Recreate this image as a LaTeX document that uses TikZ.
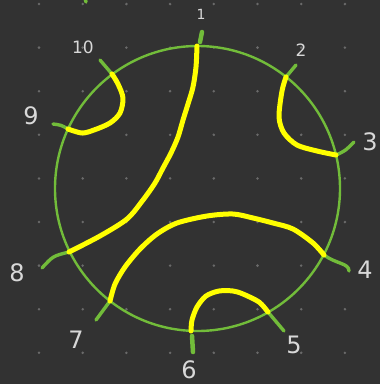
\documentclass[tikz,border=0pt]{standalone}
\usepackage{fontspec}
\setmainfont{DejaVu Sans}
\usepackage{tikz}
\usetikzlibrary{positioning,calc}

\definecolor{bgdark}{HTML}{323232}
\definecolor{griddot}{HTML}{6A6A6A}
\definecolor{ringgreen}{HTML}{72BC3A}
\definecolor{chordyellow}{HTML}{FFFF00}
\definecolor{lblgray}{HTML}{D8D8D8}

\tikzset{
	ring/.style={ringgreen,line width=2.4pt},
	tick/.style={ringgreen,line width=3.4pt,line cap=round},
	chord/.style={chordyellow,line width=5pt,line cap=round,line join=round},
	lbl/.style={lblgray,inner sep=0pt,font=\fontsize{24}{24}\selectfont},
	lblsmall/.style={lbl,font=\fontsize{17}{17}\selectfont}
}

\begin{document}
\begin{tikzpicture}[x=1pt,y=-1pt]
		
		% Background
		\fill[bgdark] (0,0) rectangle (380,384);
		\useasboundingbox (0,0) rectangle (380,384);
		
		% Dot grid
		\foreach \i in {0,...,7}
		\foreach \j in {0,...,8}
		\fill[griddot] (39+43.7*\i,4+43.6*\j) circle (1.4);
		
		% Circle
		\coordinate (c) at (197.5,188.5);
		\draw[ring] (c) circle (142.5);
		
		% Points on the circle
		\coordinate (p1) at (197,46);
		\coordinate (p2) at (286,77);
		\coordinate (p3) at (336,155);
		\coordinate (p4) at (324,255);
		\coordinate (p5) at (268,312);
		\coordinate (p6) at (191,331);
		\coordinate (p7) at (110,301);
		\coordinate (p8) at (69,252);
		\coordinate (p9) at (68,129);
		\coordinate (p10) at (112,74);
		
		% Ticks
		\coordinate (t1) at (202,32);
		\coordinate (t2) at (296,65);
		\coordinate (t3) at (354,142);
		\coordinate (t4) at (349,271);
		\coordinate (t5) at (284,331);
		\coordinate (t6) at (193,352);
		\coordinate (t7) at (96,320);
		\coordinate (t8) at (42,268);
		\coordinate (t9) at (53,124);
		\coordinate (t10) at (100,60);
		
		\draw[tick,line width=4.5pt] ($(p1)+(3,-4)$) -- (t1);
		\draw[tick] (p2) -- (t2);
		\draw[tick] (p3) .. controls (345,151) .. (t3);
		\draw[tick] (p4) .. controls (336,264) and (349,263) .. (t4);
		\draw[tick] (p5) .. controls (276,322) .. (t5);
		\draw[tick,line width=4.5pt] ($(p6)+(1,5)$) -- (t6);
		\draw[tick] (p7) -- (t7);
		\draw[tick] (p8) .. controls (53,256) .. (t8);
		\draw[tick] (p9) .. controls (61,125) .. (t9);
		\draw[tick] (p10) .. controls (106,67) .. (t10);
		\draw[tick] (85,-2) -- (86,2);
		
		% Chords
		\draw[chord] plot[smooth] coordinates{
			(p1) (196,67) (193,87) (188,104) (183,120) (178,137)
			(171,153) (163,168) (155,183) (143,200) (127,219)
			(100,236) (p8)
		};
		
		\draw[chord] plot[smooth] coordinates{
			(p10) (118,84) (123,98) (120,113) (110,123) (94,130) (82,133) (p9)
		};
		
		\draw[chord] plot[smooth] coordinates{
			(p2) (282,91) (279,117) (284,133) (297,145) (317,151) (p3)
		};
		
		\draw[chord] plot[smooth] coordinates{
			(p4) (313,243) (293,229) (273,223) (253,218) (233,214)
			(207,216) (177,223) (157,234) (140,249) (125,267)
			(115,284) (p7)
		};
		
		\draw[chord] plot[smooth] coordinates{
			(p5) (259,302) (243,294) (233,291) (219,291) (206,296)
			(197,307) (192,320) (p6)
		};
		
		% Labels
		\node[lblsmall,font=\fontsize{14}{14}\selectfont] (l1) at (201,14) {1};
		\node[lblsmall] (l2) at (301,50) {2};
		\node[lbl] (l3) at (370,142) {3};
		\node[lbl] (l4) at (365,270) {4};
		\node[lbl] (l5) at (294,345) {5};
		\node[lbl] (l6) at (189,370) {6};
		\node[lbl] (l7) at (76,340) {7};
		\node[lbl] (l8) at (17,273) {8};
		\node[lbl] (l9) at (31,116) {9};
		\node[lblsmall] (l10) at (83,47) {10};
		
	\end{tikzpicture}
\end{document}
